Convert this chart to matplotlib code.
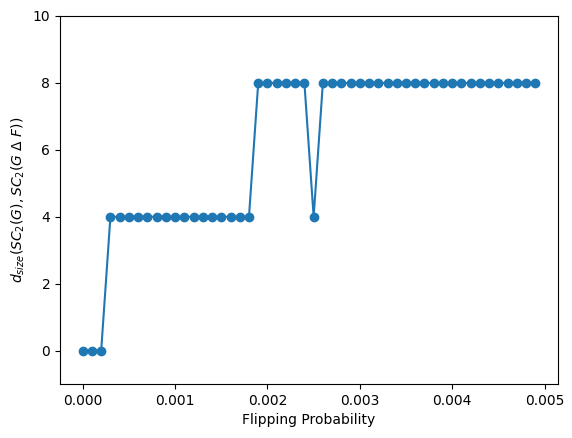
import matplotlib
matplotlib.use('Agg')
import matplotlib.pyplot as plt

# flipping probabilities and measured distance
probs = [0.0000, 0.0001, 0.0002, 0.0003, 0.0004, 0.0005, 0.0006, 0.0007, 0.0008, 0.0009,
         0.0010, 0.0011, 0.0012, 0.0013, 0.0014, 0.0015, 0.0016, 0.0017, 0.0018, 0.0019,
         0.0020, 0.0021, 0.0022, 0.0023, 0.0024, 0.0025, 0.0026, 0.0027, 0.0028, 0.0029,
         0.0030, 0.0031, 0.0032, 0.0033, 0.0034, 0.0035, 0.0036, 0.0037, 0.0038, 0.0039,
         0.0040, 0.0041, 0.0042, 0.0043, 0.0044, 0.0045, 0.0046, 0.0047, 0.0048, 0.0049]
dist = [0, 0, 0, 4, 4, 4, 4, 4, 4, 4,
        4, 4, 4, 4, 4, 4, 4, 4, 4, 8,
        8, 8, 8, 8, 8, 4, 8, 8, 8, 8,
        8, 8, 8, 8, 8, 8, 8, 8, 8, 8,
        8, 8, 8, 8, 8, 8, 8, 8, 8, 8]

fig = plt.figure(figsize=(5.72, 4.38), dpi=100)
plt.plot(probs, dist, marker='o')
plt.ylim(-1, 10)
plt.xlabel('Flipping Probability')
plt.ylabel(r'$d_{size}(SC_2(G), SC_2(G\ \Delta\ F))$')
plt.subplots_adjust(left=0.105, right=0.9755, top=0.9635, bottom=0.123)
plt.savefig('out.png')
